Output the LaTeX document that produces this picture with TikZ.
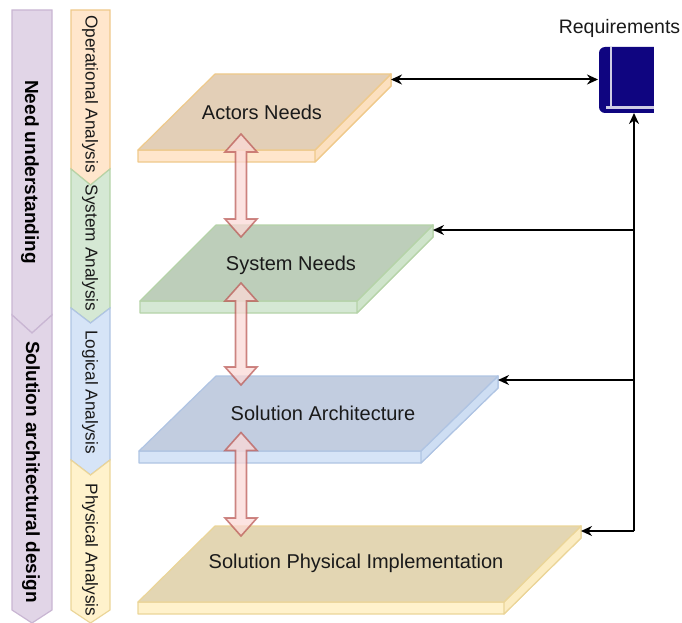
\documentclass[tikz,border=0pt]{standalone}
\usepackage{fontspec}
\setmainfont{Liberation Sans}
\usetikzlibrary{arrows.meta,calc}
\definecolor{txt}{HTML}{1A1A1A}
\definecolor{orF}{HTML}{FFE6CC}\definecolor{orS}{HTML}{EFC98A}\definecolor{orT}{HTML}{E3CFB7}
\definecolor{grF}{HTML}{D5E8D4}\definecolor{grS}{HTML}{B5D3A8}\definecolor{grT}{HTML}{BDCEBA}
\definecolor{blF}{HTML}{D6E4F7}\definecolor{blS}{HTML}{AFC4E3}\definecolor{blT}{HTML}{C2CDE0}
\definecolor{yeF}{HTML}{FFF2CC}\definecolor{yeS}{HTML}{EBD598}\definecolor{yeT}{HTML}{E3D6B3}
\definecolor{puF}{HTML}{E1D5E7}\definecolor{puS}{HTML}{C9B6D3}
\definecolor{arF}{HTML}{FBD9D7}\definecolor{arS}{HTML}{B85450}
\definecolor{bookc}{HTML}{0F0580}
\tikzset{
  x=1pt,y=-1pt,
  lbl/.style={font=\fontsize{20}{22}\selectfont,text=txt,inner sep=0pt},
  vlbl/.style={font=\fontsize{17.2}{20}\selectfont,text=txt,inner sep=0pt,rotate=-90},
  blbl/.style={font=\bfseries\fontsize{19}{22}\selectfont,text=black,inner sep=0pt,rotate=-90},
  conn/.style={draw=black,line width=2pt,-{Stealth[length=11pt,width=10pt]}},
  conn2/.style={draw=black,line width=2pt,{Stealth[length=11pt,width=10pt]}-{Stealth[length=11pt,width=10pt]}},
  fat/.style={draw=arS,draw opacity=.7,fill=arF,fill opacity=.75,line width=1.6pt,line join=miter},
  strip/.style={line width=1.2pt,line join=miter},
}
% plate: name, x-left-top, x-right-top, x-left-bottom, x-right-bottom, y-top, y-front, colours
\newcommand{\plate}[9]{%
  \coordinate (#1a) at (#2,#6);\coordinate (#1b) at (#3,#6);
  \coordinate (#1c) at (#5,#7);\coordinate (#1d) at (#4,#7);
  \fill[#8,draw=#9,line width=1.2pt,line join=round]
    (#4,#7)--(#5,#7)--(#3,#6)--(#3,#6+12)--(#5,#7+12)--(#4,#7+12)--cycle;
  \fill[#8!80!#9,draw=#9,line width=1.2pt,line join=round]
    (#5,#7)--(#3,#6)--(#3,#6+12)--(#5,#7+12)--cycle;
}
\newcommand{\fatarrow}[2]{%
  \path[fat] let \p1=(#1),\p2=(#2) in
   (\x1,\y1) -- (\x1+16pt,\y1-18pt) -- (\x1+5.5pt,\y1-18pt) -- (\x1+5.5pt,\y2+18pt)
   -- (\x1+16pt,\y2+18pt) -- (\x2,\y2) -- (\x2-16pt,\y2+18pt) -- (\x2-5.5pt,\y2+18pt)
   -- (\x2-5.5pt,\y1-18pt) -- (\x2-16pt,\y1-18pt) -- cycle;
}
\begin{document}
\begin{tikzpicture}
\useasboundingbox (0,0) rectangle (682,623);
% left strips
\fill[puF,draw=puS,strip] (12,10)--(52,10)--(52,315)--(32,333)--(12,315)--cycle;
\fill[puF,draw=puS,strip] (12,315)--(32,333)--(52,315)--(52,610)--(32,623)--(12,610)--cycle;
\fill[orF,draw=orS,strip] (71,10)--(110,10)--(110,169)--(90.5,185)--(71,169)--cycle;
\fill[grF,draw=grS,strip] (71,169)--(90.5,185)--(110,169)--(110,308)--(90.5,323)--(71,308)--cycle;
\fill[blF,draw=blS,strip] (71,308)--(90.5,323)--(110,308)--(110,460)--(90.5,475)--(71,460)--cycle;
\fill[yeF,draw=yeS,strip] (71,460)--(90.5,475)--(110,460)--(110,610)--(90.5,623)--(71,610)--cycle;
\node[blbl] (need) at (30,172) {Need understanding};
\node[blbl] (sol) at (31,472) {Solution architectural design};
\node[vlbl] (oa) at (90,94) {Operational Analysis};
\node[vlbl] (sa) at (90,248) {System Analysis};
\node[vlbl] (la) at (90,392) {Logical Analysis};
\node[vlbl] (pa) at (90,550) {Physical Analysis};
% plates: side/front first
\plate{p1}{215}{391}{138}{315}{74}{150}{orF}{orS}
\plate{p2}{216}{433}{140}{357}{225}{301}{grF}{grS}
\plate{p3}{216}{498}{139}{421}{376}{451}{blF}{blS}
\plate{p4}{215}{581}{138}{504}{526}{602}{yeF}{yeS}
\fill[orT,draw=orS,line width=1.2pt,line join=round] (p1a)--(p1b)--(p1c)--(p1d)--cycle;
\fill[grT,draw=grS,line width=1.2pt,line join=round] (p2a)--(p2b)--(p2c)--(p2d)--cycle;
\fill[blT,draw=blS,line width=1.2pt,line join=round] (p3a)--(p3b)--(p3c)--(p3d)--cycle;
\fill[yeT,draw=yeS,line width=1.2pt,line join=round] (p4a)--(p4b)--(p4c)--(p4d)--cycle;
\node[lbl] (actors) at (262,112) {Actors Needs};
\node[lbl] (sysn) at (291,265) {System Needs};
\node[lbl] (solarch) at (323,413.5) {Solution Architecture};
\node[lbl] (phys) at (356,563) {Solution Physical Implementation};
% fat arrows
\coordinate (f1a) at (241,134);\coordinate (f1b) at (241,237);
\coordinate (f2a) at (241,283);\coordinate (f2b) at (241,385);
\coordinate (f3a) at (241,432.5);\coordinate (f3b) at (241,536);
\fatarrow{f1a}{f1b}
\fatarrow{f2a}{f2b}
\fatarrow{f3a}{f3b}
% book
\node[font=\fontsize{19.5}{22}\selectfont,text=txt,inner sep=0pt] (reqlbl) at (619.5,28) {Requirements};
\fill[bookc,rounded corners=6pt] (670,47) -- (599,47) -- (599,113) -- (670,113) -- cycle;
\fill[white] (654,40) rectangle (682,120);
\fill[white!80!bookc] (609.5,47) rectangle (612,107);
\fill[white!80!bookc] (606,106.5) rectangle (654,109);
\coordinate (bookL) at (598,79.5);
\coordinate (bookB) at (634,113);
\coordinate (j0) at (634,531);
\coordinate (j1) at (634,230);
\coordinate (j2) at (634,380);
\coordinate (e0) at (391,79.5);
\coordinate (e1) at (433,230);
\coordinate (e2) at (498,380);
\coordinate (e3) at (581,531);
\draw[conn2] (e0) -- (bookL);
\draw[conn] (j0) -- (bookB);
\draw[conn] (j1) -- (e1);
\draw[conn] (j2) -- (e2);
\draw[conn] (j0) -- (e3);
\end{tikzpicture}
\end{document}
